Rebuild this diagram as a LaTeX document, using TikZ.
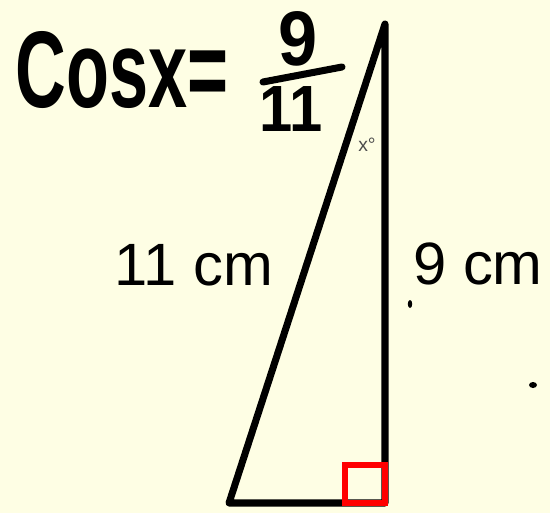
\documentclass[tikz,border=0pt]{standalone}
\usepackage{fontspec}
\setmainfont{Liberation Sans}
\begin{document}
\begin{tikzpicture}[x=0.02cm,y=-0.02cm,
  edge/.style={line width=4pt,line cap=round,line join=round},
  lbl/.style={font=\fontsize{34}{36}\selectfont,inner sep=0pt,anchor=base},
  hand/.style={inner sep=0pt,font=\fontsize{40}{42}\selectfont\bfseries},
  blob/.style={fill=black,draw=none}]
\fill[fill={rgb,255:red,254;green,254;blue,228}] (0,0) rectangle (550,513);
\useasboundingbox (0,0) rectangle (550,513);
\coordinate (T) at (385,24);
\coordinate (R) at (385,503);
\coordinate (L) at (229,503);
\draw[edge] (T) -- (R) -- (L) -- cycle;
\draw[line width=3.4pt,red] (345,465) rectangle (385,503);
\node[lbl] (a) at (194,285) {11 cm};
\node[lbl,anchor=base west] (b) at (413,284) {9 cm};
\node[inner sep=0pt,text=black!70,font=\fontsize{11}{12}\selectfont] (x) at (367,145) {x°};
\fill[blob] (410,304) ellipse (2.2 and 4);
\fill[blob] (533,385) ellipse (4 and 3);
\node[hand] (eq) at (122,70) {\scalebox{1}[1.55]{Cosx=}};
\node[hand] (n) at (298,39) {\scalebox{1}[1.1]{9}};
\node[hand] (d) at (291,109) {\scalebox{0.85}[0.93]{11}};
\coordinate (f1) at (263,82);
\coordinate (f2) at (342,67);
\draw[line width=4pt,line cap=round] (f1) -- (f2);
\end{tikzpicture}
\end{document}
